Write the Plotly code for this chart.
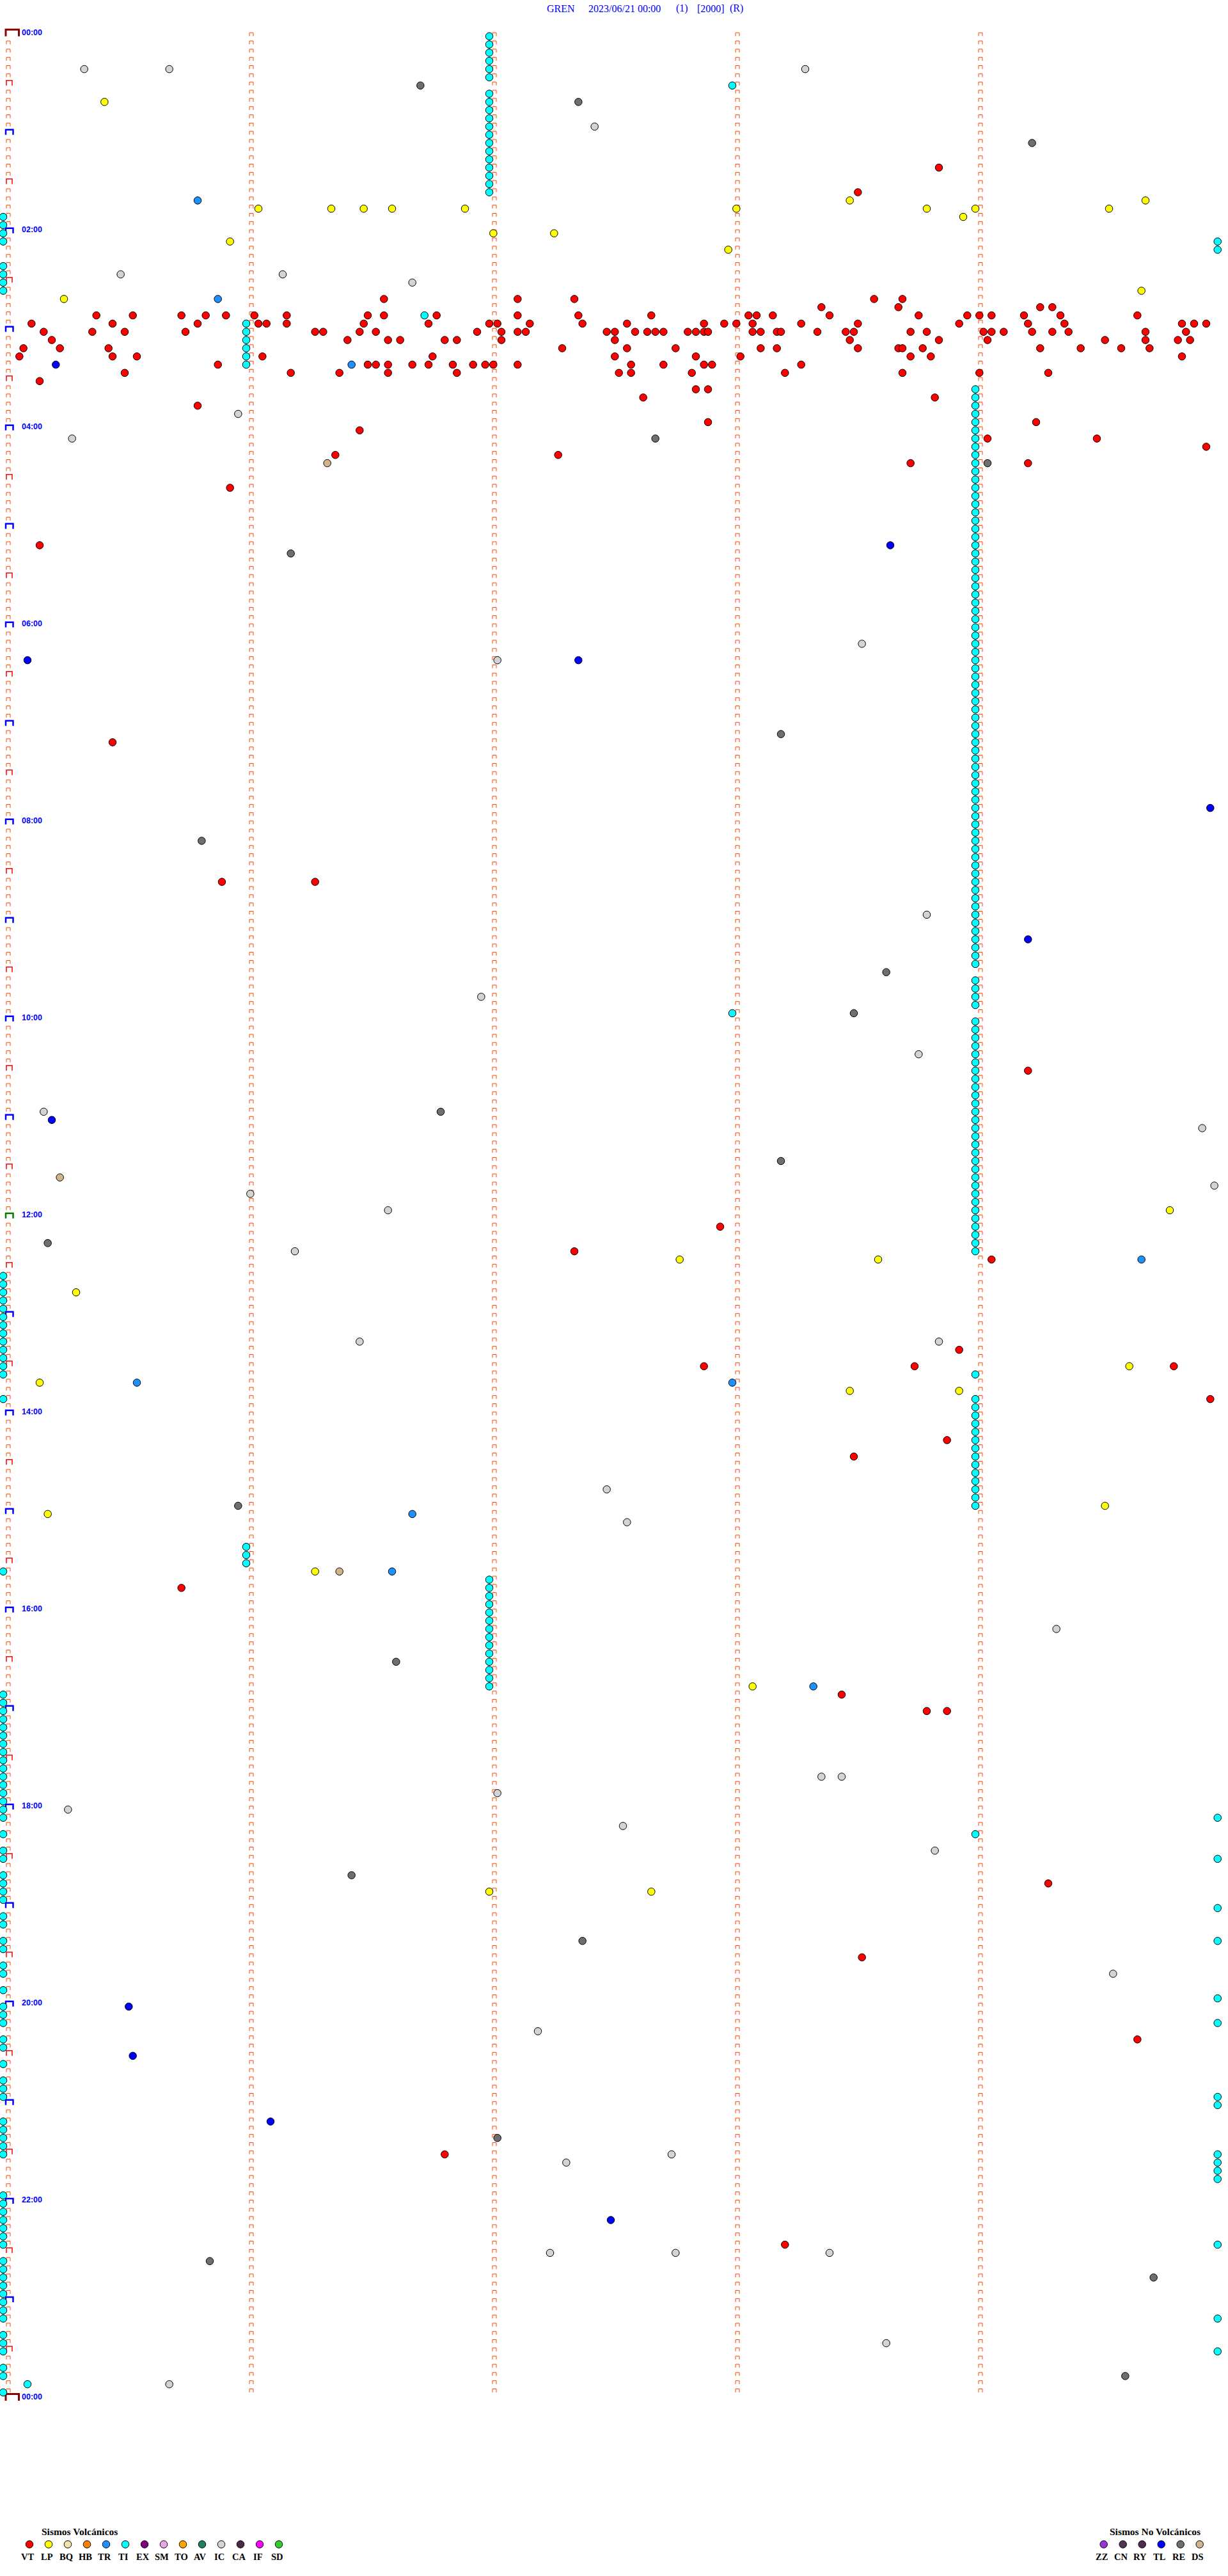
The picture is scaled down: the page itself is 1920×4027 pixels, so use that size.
import numpy as np
import pandas as pd
import plotly.graph_objects as go

# ---------------- data ----------------
TITLE_PARTS = ["GREN", "2023/06/21 00:00", "(1)", "[2000]", "(R)"]
WINDOW_MIN = 5          # minutes per trace line
N_ROWS = 288            # 24 h of 5-minute lines
HOUR_LABELS = ["00:00", "02:00", "04:00", "06:00", "08:00", "10:00", "12:00",
               "14:00", "16:00", "18:00", "20:00", "22:00", "00:00"]

VOLC_CODES = ["VT", "LP", "BQ", "HB", "TR", "TI", "EX", "SM", "TO", "AV", "IC", "CA", "IF", "SD"]
VOLC_COLORS = ["#FF0000", "#FFFF00", "#EEE3A8", "#FF8000", "#1E90FF", "#00FFFF", "#800080",
               "#E8A6E8", "#FFA500", "#1E7F60", "#D3D3D3", "#4A2A45", "#FF00FF", "#32CD32"]
NOVOLC_CODES = ["ZZ", "CN", "RY", "TL", "RE", "DS"]
NOVOLC_COLORS = ["#9A34D8", "#4E3550", "#552A50", "#0000FF", "#6E6E6E", "#D2B48C"]

VT = ["01:23:51", "01:38:31",
      "02:41:34", "02:42:07", "02:42:21", "02:43:35", "02:43:42",
      "02:48:22", "02:48:41", "02:49:16", "02:49:19",
      "02:50:23", "02:50:32", "02:50:44", "02:50:50", "02:50:55", "02:51:02", "02:51:10", "02:51:30",
      "02:51:34", "02:51:47", "02:52:07", "02:52:22", "02:52:40", "02:53:04", "02:53:06", "02:53:10",
      "02:53:24", "02:53:46", "02:53:58", "02:54:01", "02:54:04", "02:54:12", "02:54:21", "02:54:40",
      "02:55:07", "02:55:27", "02:55:48", "02:56:03", "02:56:05", "02:56:10", "02:56:29", "02:56:45",
      "02:57:00", "02:57:02", "02:57:10", "02:57:23", "02:57:34", "02:57:53", "02:57:58", "02:58:01",
      "02:58:05", "02:58:17", "02:58:31", "02:58:56", "02:59:13", "02:59:22", "02:59:51", "02:59:54",
      "02:59:57",
      "03:00:10", "03:00:22", "03:00:30", "03:00:45", "03:01:17", "03:01:19", "03:01:28", "03:01:32",
      "03:01:57", "03:02:03", "03:02:07", "03:02:09", "03:02:29", "03:02:31", "03:02:36", "03:02:39",
      "03:02:41", "03:02:43", "03:02:49", "03:02:51", "03:02:53", "03:02:54", "03:03:05", "03:03:07",
      "03:03:11", "03:03:12", "03:03:21", "03:03:28", "03:03:30", "03:03:44", "03:03:48", "03:04:02",
      "03:04:04", "03:04:07", "03:04:14", "03:04:19", "03:04:23", "03:04:42", "03:04:52",
      "03:05:12", "03:06:25", "03:06:35", "03:06:38", "03:06:49", "03:06:52", "03:07:03", "03:07:31",
      "03:08:29", "03:08:51", "03:09:03", "03:09:32", "03:09:42", "03:09:50", "03:09:53",
      "03:10:05", "03:10:14", "03:10:26", "03:12:18", "03:12:34", "03:12:46", "03:13:07", "03:13:11",
      "03:13:31", "03:13:41", "03:13:42", "03:13:47", "03:14:16", "03:14:26", "03:14:36", "03:14:43",
      "03:15:04", "03:15:27", "03:15:33", "03:16:04", "03:16:46", "03:17:31", "03:17:51", "03:18:02",
      "03:18:44", "03:18:49", "03:19:51",
      "03:20:53", "03:21:30", "03:21:32", "03:21:35", "03:21:41", "03:21:45", "03:21:51", "03:21:56",
      "03:21:59", "03:22:01", "03:22:07", "03:22:35", "03:22:43", "03:22:53", "03:22:55", "03:23:17",
      "03:25:30", "03:26:11", "03:26:23", "03:26:35", "03:26:52", "03:27:32", "03:27:35", "03:27:50",
      "03:28:13", "03:28:42", "03:29:01", "03:29:18",
      "03:30:09", "03:37:51", "03:37:54", "03:42:38", "03:43:50", "03:45:48", "03:57:54", "03:59:15",
      "04:01:28", "04:09:03", "04:09:30", "04:14:57", "04:16:22", "04:17:17", "04:23:44", "04:24:13",
      "04:35:56", "05:10:09", "07:10:27", "08:35:54", "08:36:17", "10:34:13", "12:07:57", "12:22:21",
      "12:29:04", "13:23:56", "13:32:53", "13:33:45", "13:34:49", "13:54:58", "14:18:53", "14:28:30",
      "15:45:44", "16:53:27", "17:03:48", "17:03:53", "18:49:18", "19:33:32", "20:24:40", "21:31:49",
      "22:28:13"]

LP = ["00:40:25", "01:43:29", "01:44:42", "01:46:03", "01:46:21", "01:46:29", "01:46:36", "01:46:54",
      "01:48:01", "01:48:48", "01:49:00", "01:49:33", "01:53:57", "02:02:01", "02:02:16", "02:05:56",
      "02:12:59", "02:39:41", "02:40:15", "11:59:48", "12:27:47", "12:28:36", "12:45:18", "13:34:38",
      "13:40:09", "13:48:29", "13:48:56", "14:59:32", "15:00:11", "15:36:17", "16:48:05", "18:52:00",
      "18:52:40"]

TR = ["01:40:48", "02:40:53", "03:21:26", "12:29:41", "13:40:33", "13:43:00", "15:01:41", "15:36:36",
      "16:48:20"]

TI = ["00:02:00", "00:07:00", "00:12:00", "00:17:00", "00:22:00", "00:27:00", "00:33:00",
      "00:37:00", "00:42:00", "00:47:00", "00:52:00", "00:57:00", "01:02:00", "01:07:00", "01:12:00",
      "01:17:00", "01:22:00", "01:27:00", "01:32:00", "01:37:00",
      "01:50:00", "01:55:00", "02:00:00", "02:05:00", "02:09:59.8", "02:14:59.8",
      "02:20:00", "02:25:00", "02:30:00", "02:35:00", "02:51:44",
      "02:56:00", "03:01:00", "03:06:00", "03:11:00", "03:16:00", "03:21:00",
      "03:39:00", "03:44:00", "03:49:00", "03:54:00", "03:59:00",
      "04:04:00", "04:09:00", "04:14:00", "04:19:00", "04:24:00", "04:29:00",
      "04:34:00", "04:39:00", "04:44:00", "04:49:00", "04:54:00", "04:59:00",
      "05:04:00", "05:09:00", "05:14:00", "05:19:00", "05:24:00", "05:29:00",
      "05:34:00", "05:39:00", "05:44:00", "05:49:00", "05:54:00", "05:59:00",
      "06:04:00", "06:09:00", "06:14:00", "06:19:00", "06:24:00", "06:29:00",
      "06:34:00", "06:39:00", "06:44:00", "06:49:00", "06:54:00", "06:59:00",
      "07:04:00", "07:09:00", "07:14:00", "07:19:00", "07:24:00", "07:29:00",
      "07:34:00", "07:39:00", "07:44:00", "07:49:00", "07:54:00", "07:59:00",
      "08:04:00", "08:09:00", "08:14:00", "08:19:00", "08:24:00", "08:29:00",
      "08:34:00", "08:39:00", "08:44:00", "08:49:00", "08:54:00", "08:59:00",
      "09:04:00", "09:09:00", "09:14:00", "09:19:00", "09:24:00", "09:29:00",
      "09:39:00", "09:44:00", "09:49:00", "09:54:00", "09:58:00",
      "10:04:00", "10:09:00", "10:14:00", "10:19:00", "10:24:00", "10:29:00",
      "10:34:00", "10:39:00", "10:44:00", "10:49:00", "10:54:00", "10:59:00",
      "11:04:00", "11:09:00", "11:14:00", "11:19:00", "11:24:00", "11:29:00",
      "11:34:00", "11:39:00", "11:44:00", "11:49:00", "11:54:00", "11:59:00",
      "12:04:00", "12:09:00", "12:14:00", "12:19:00", "12:24:00",
      "12:35:00", "12:40:00", "12:45:00", "12:50:00", "12:55:00", "13:00:00", "13:05:00",
      "13:10:00", "13:15:00", "13:20:00", "13:25:00", "13:30:00", "13:35:00", "13:39:00",
      "13:50:00", "13:54:00", "13:59:00", "14:04:00", "14:09:00", "14:14:00", "14:19:00",
      "14:24:00", "14:29:00", "14:34:00", "14:39:00", "14:44:00", "14:49:00", "14:54:00", "14:59:00",
      "15:21:00", "15:26:00", "15:31:00", "15:35:00",
      "15:42:00", "15:47:00", "15:52:00", "15:57:00", "16:02:00", "16:07:00", "16:12:00",
      "16:17:00", "16:22:00", "16:27:00", "16:32:00", "16:37:00", "16:42:00", "16:47:00",
      "16:50:00", "16:55:00", "17:00:00", "17:05:00", "17:10:00", "17:15:00", "17:20:00", "17:25:00",
      "17:30:00", "17:35:00", "17:40:00", "17:45:00", "17:50:00", "17:55:00", "18:00:00", "18:05:00",
      "18:09:59.8", "18:15:00", "18:19:00", "18:25:00", "18:30:00", "18:34:59.8",
      "18:40:00", "18:45:00", "18:50:00", "18:55:00", "19:04:59.8",
      "19:05:00", "19:10:00", "19:20:00", "19:24:59.8", "19:25:00", "19:35:00", "19:40:00", "19:50:00",
      "19:59:59.8", "20:00:00", "20:05:00", "20:10:00", "20:14:59.8", "20:20:00", "20:25:00",
      "20:35:00", "20:45:00", "20:50:00", "20:55:00", "20:59:59.8", "21:04:59.8",
      "21:10:00", "21:15:00", "21:20:00", "21:25:00", "21:30:00",
      "21:34:59.8", "21:39:59.8", "21:44:59.8", "21:49:59.8",
      "21:55:00", "22:00:00", "22:05:00", "22:10:00", "22:15:00", "22:20:00", "22:25:00", "22:29:59.8",
      "22:35:00", "22:40:00", "22:45:00", "22:50:00", "22:55:00", "23:00:00", "23:05:00", "23:10:00",
      "23:14:59.8", "23:20:00", "23:25:00", "23:30:00", "23:34:59.8", "23:40:00", "23:45:00",
      "23:50:06", "23:55:00"]

IC = ["00:20:20", "00:20:41", "00:23:18", "00:57:26", "02:25:29", "02:26:09", "02:31:41", "03:50:58",
      "04:05:17", "06:13:32", "06:22:02", "08:58:48", "09:46:58", "10:23:46", "10:55:10", "11:09:56",
      "11:44:59", "11:46:01", "11:56:35", "12:21:12", "13:16:28", "13:18:51", "14:47:29", "15:07:34",
      "16:14:20", "17:43:22", "17:43:27", "17:52:02", "18:00:16", "18:12:33", "18:28:50", "19:44:34",
      "20:17:12", "21:32:45", "21:37:19", "22:32:15", "22:32:46", "22:33:24", "23:28:38", "23:50:41"]

TL = ["03:20:13", "05:13:39", "06:20:06", "06:22:22", "07:54:58", "09:14:13", "11:00:12", "20:00:31",
      "20:30:32", "21:11:06", "22:12:30"]

RE = ["00:31:43", "00:42:22", "01:09:14", "04:07:41", "04:24:03", "05:16:11", "07:08:12", "08:10:49",
      "09:33:38", "09:58:30", "10:56:48", "11:28:12", "12:15:11", "14:55:58", "16:31:37", "18:41:26",
      "19:22:23", "21:22:02", "22:35:51", "22:49:44", "23:49:37"]

DS = ["04:21:20", "11:35:14", "15:36:23"]

EVENTS = {"TI": TI, "IC": IC, "RE": RE, "DS": DS, "LP": LP, "TR": TR, "TL": TL, "VT": VT}

# ---------------- geometry of the sheet (pixels) ----------------
W, H = 1920, 4027
X0, PX_MIN = 5.0, 380.0          # pixel of minute 0, pixels per minute
Y0, PX_ROW = 56.7, 12.834        # pixel of row 0, pixels per row

COLORS = dict(zip(VOLC_CODES + NOVOLC_CODES, VOLC_COLORS + NOVOLC_COLORS))
COLORS["RE"] = "#6E6E6E"


def mx(px):
    return px / PX_MIN


def ry(px):
    return px / PX_ROW


fig = go.Figure()

# tick glyphs along each minute column
small_x, small_y = [], []
half_x, half_y = [], []
hour_x, hour_y = [], []
noon_x, noon_y = [], []
day_x, day_y = [], []


def cap(xs, ys, xl, xr, yt, yb):
    xs += [xl, xl, xr, xr, None]
    ys += [yb, yt, yt, yb, None]


for k in range(N_ROWS + 1):
    for c in range(WINDOW_MIN):
        if c == 0 and k % 6 == 0:
            if k % 288 == 0:
                cap(day_x, day_y, c + mx(4), c + mx(24.5), k - ry(10.5), k)
            elif k == 144:
                cap(noon_x, noon_y, c + mx(4), c + mx(15.5), k - ry(8), k)
            elif k % 12 == 0:
                cap(hour_x, hour_y, c + mx(4), c + mx(15.5), k - ry(8), k)
            else:
                cap(half_x, half_y, c + mx(5), c + mx(14), k - ry(8), k)
            continue
        if k == N_ROWS:
            continue
        cap(small_x, small_y, c + mx(5), c + mx(11), k - ry(5.5), k - ry(0.2))

for xs, ys, col, wd in [(small_x, small_y, "#FF4500", 1), (half_x, half_y, "#FF0000", 1.5),
                        (hour_x, hour_y, "#0000FF", 2.5), (noon_x, noon_y, "#008000", 2.5),
                        (day_x, day_y, "#8B0000", 3)]:
    fig.add_trace(go.Scatter(x=xs, y=ys, mode="lines", line=dict(color=col, width=wd),
                             hoverinfo="skip", showlegend=False, connectgaps=False))

# events
for code, times in EVENTS.items():
    mins = pd.to_timedelta(pd.Series(times)).dt.total_seconds().to_numpy() / 60.0
    rows = np.floor(mins / WINDOW_MIN + 1e-9)
    off = mins - rows * WINDOW_MIN
    fig.add_trace(go.Scatter(x=off, y=rows, mode="markers", name=code,
                             marker=dict(size=11.5, color=COLORS[code],
                                         line=dict(color="black", width=1)),
                             showlegend=False, text=times, hovertemplate=code + " %{text}<extra></extra>"))

ann = []
# hour labels
for i, lab in enumerate(HOUR_LABELS):
    ann.append(dict(x=mx(27), y=i * 24 - ry(5.4), xref="x", yref="y", text=lab, showarrow=False,
                    xanchor="left", yanchor="middle",
                    font=dict(family="Liberation Sans", size=12.5, color="#0000FF", weight="bold")))

# title
title_x = [853, 918, 1055, 1088, 1139]
for tx, part in zip(title_x, TITLE_PARTS):
    ann.append(dict(x=tx, y=13, xref="x2", yref="y2", text=part, showarrow=False,
                    xanchor="left", yanchor="middle",
                    font=dict(family="Liberation Serif", size=16, color="#0000FF")))

# legends
LEG_Y = 3977.5
vx = [46 + 30 * i for i in range(len(VOLC_CODES))]
nx = [1725.7 + 30 * i for i in range(len(NOVOLC_CODES))]
fig.add_trace(go.Scatter(x=vx + nx, y=[LEG_Y] * (len(vx) + len(nx)), xaxis="x2", yaxis="y2",
                         mode="markers", hoverinfo="skip", showlegend=False,
                         marker=dict(size=11.5, color=VOLC_COLORS + NOVOLC_COLORS,
                                     line=dict(color="black", width=1))))
for x, code in zip(vx + nx, VOLC_CODES + NOVOLC_CODES):
    ann.append(dict(x=x - 3, y=3997, xref="x2", yref="y2", text=code, showarrow=False,
                    xanchor="center", yanchor="middle",
                    font=dict(family="Liberation Serif", size=14.5, color="black", weight="bold")))
ann.append(dict(x=124, y=3957, xref="x2", yref="y2", text="Sismos Volcánicos", showarrow=False,
                xanchor="center", yanchor="middle",
                font=dict(family="Liberation Serif", size=15.5, color="black", weight="bold")))
ann.append(dict(x=1806, y=3957, xref="x2", yref="y2", text="Sismos No Volcánicos", showarrow=False,
                xanchor="center", yanchor="middle",
                font=dict(family="Liberation Serif", size=15.5, color="black", weight="bold")))

fig.update_layout(
    width=W, height=H, autosize=False,
    margin=dict(l=0, r=0, t=0, b=0, pad=0),
    paper_bgcolor="white", plot_bgcolor="white", showlegend=False,
    xaxis=dict(range=[-X0 / PX_MIN, (W - X0) / PX_MIN], visible=False, fixedrange=True),
    yaxis=dict(range=[(H - Y0) / PX_ROW, -Y0 / PX_ROW], visible=False, fixedrange=True),
    xaxis2=dict(range=[0, W], overlaying="x", anchor="y2", visible=False, fixedrange=True),
    yaxis2=dict(range=[H, 0], overlaying="y", anchor="x2", visible=False, fixedrange=True),
    annotations=ann,
)

fig.write_html("out.html", config={"displayModeBar": False},
               post_script="document.body.style.margin='0';document.body.style.overflow='hidden';")
